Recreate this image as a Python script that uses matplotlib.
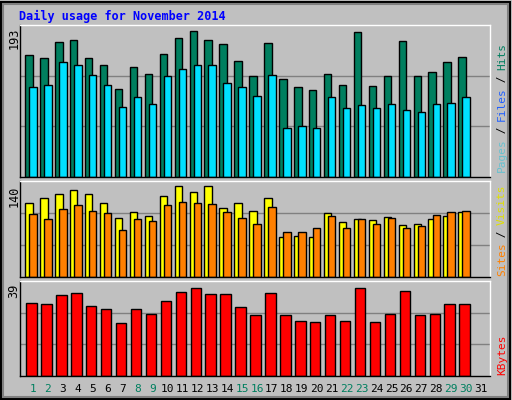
import matplotlib
matplotlib.use("Agg")
import matplotlib.pyplot as plt
from matplotlib.patches import Rectangle

days = list(range(1, 32))
weekend = [1, 2, 8, 9, 15, 16, 22, 23, 29, 30]
hits = [157,153,173,176,152,143,113,141,132,158,178,187,176,170,149,130,172,126,116,111,132,118,186,117,130,175,130,135,148,154]
files = [116,118,147,143,131,118,90,102,94,130,139,144,143,121,115,104,131,63,66,63,102,88,92,88,94,86,83,93,95,102]
visits = [110,117,124,130,124,110,88,97,91,121,135,127,135,102,110,98,117,60,61,60,95,82,86,85,89,78,79,86,91,97]
sites = [94,86,101,107,98,95,70,86,83,107,111,110,108,97,88,79,104,67,67,73,91,73,86,79,88,73,76,92,97,98]
kbytes = [30.8,30.4,34.1,34.9,29.6,28.3,22.6,28.3,26.3,31.6,35.7,37.3,34.5,34.5,29.1,25.9,34.9,25.9,23.4,23.0,25.9,23.4,37.3,23.0,26.3,36.1,25.9,26.3,30.4,30.4]
max_hits, max_visits, max_kb = 193, 140, 39

W, H = 512, 400
fig = plt.figure(figsize=(W/100, H/100), dpi=100)
fig.patch.set_facecolor("#c0c0c0")
fig.add_artist(Rectangle((1/W, 1/H), (W-3)/W, (H-3)/H, transform=fig.transFigure,
                         fill=False, edgecolor="black", lw=1.5))
fig.add_artist(Rectangle((3/W, 3/H), (W-7)/W, (H-7)/H, transform=fig.transFigure,
                         fill=False, edgecolor="#808080", lw=1.5))
mono = "DejaVu Sans Mono"

def ax_at(x0, y0, x1, y1):
    a = fig.add_axes([x0/W, 1-y1/H, (x1-x0)/W, (y1-y0)/H])
    a.set_facecolor("#c0c0c0")
    for s in a.spines.values():
        s.set_color("black"); s.set_linewidth(1)
    a.spines["top"].set_color("white"); a.spines["right"].set_color("white")
    a.set_xticks([]); a.set_yticks([])
    a.set_xlim(0.13, 31.6)
    return a

x = days[:30]
a1 = ax_at(20, 25, 490, 177)
a1.set_ylim(0, max_hits*1.01)
for g in (1/3, 2/3):
    a1.axhline(max_hits*1.01*g, color="#808080", lw=1, zorder=0)
a1.bar([d-0.27 for d in x], hits, width=0.5, color="#007f5f", edgecolor="black", lw=1)
a1.bar([d+0.0 for d in x], files, width=0.5, color="#00e0ff", edgecolor="black", lw=1)

a2 = ax_at(20, 181, 490, 277)
a2.set_ylim(0, max_visits*1.02)
for g in (1/3, 2/3):
    a2.axhline(max_visits*1.02*g, color="#808080", lw=1, zorder=0)
a2.bar([d-0.27 for d in x], visits, width=0.5, color="#ffff00", edgecolor="black", lw=1)
a2.bar([d+0.0 for d in x], sites, width=0.5, color="#ff8000", edgecolor="black", lw=1)

a3 = ax_at(20, 281, 490, 376)
a3.set_ylim(0, max_kb*1.03)
for g in (1/3, 2/3):
    a3.axhline(max_kb*1.03*g, color="#808080", lw=1, zorder=0)
a3.bar([d-0.1 for d in x], kbytes, width=0.7, color="#ff0000", edgecolor="black", lw=1)

fig.text(19/W, 1-16/H, "Daily usage for November 2014", color="#0000ff",
         fontfamily=mono, fontweight="bold", fontsize=8.5, va="center")
for yy, lab in ((28, str(max_hits)), (186, str(max_visits)), (284, str(max_kb))):
    fig.text(14/W, 1-yy/H, lab, rotation=90, fontfamily=mono, fontsize=8.5, va="top", ha="center")

def rlabel(y_bottom, parts):
    y = y_bottom
    for txt, col in parts:
        t = fig.text(502/W, 1-y/H, txt, rotation=90, color=col, fontfamily=mono,
                     fontsize=8, ha="center", va="bottom")
        y -= len(txt)*6.4
rlabel(172, [("Pages", "#66c0d0"), (" / ", "#000000"), ("Files", "#2060ff"), (" / ", "#000000"), ("Hits", "#007f5f")])
rlabel(276, [("Sites", "#ff8000"), (" / ", "#000000"), ("Visits", "#e0e000")])
rlabel(375, [("KBytes", "#ff0000")])

for d in days:
    xp = 20 + (d-0.13)*(470/31.47)
    fig.text(xp/W, 1-389/H, str(d), color="#007f5f" if d in weekend else "black",
             fontfamily=mono, fontsize=8, ha="center", va="center")

fig.savefig("out.png", dpi=100, facecolor=fig.get_facecolor())
